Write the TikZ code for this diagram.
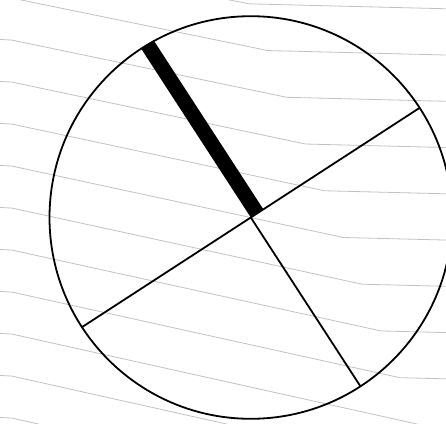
\documentclass[tikz,border=0pt]{standalone}
\usetikzlibrary{calc}
\definecolor{hatchgray}{gray}{0.76}
\tikzset{
  hatch/.style  = {draw=hatchgray, line width=0.8pt, line join=round},
  rim/.style    = {draw, line width=1.8pt},
  spoke/.style  = {draw, line width=1.8pt, line cap=round},
  marker/.style = {fill=black},
}
\begin{document}
\begin{tikzpicture}[x=1pt, y=1pt]

\useasboundingbox (0,0) rectangle (446,423);
\clip (0,0) rectangle (446,423);

% background hatching
\foreach \i in {-1,...,10} {
  \pgfmathsetmacro{\ya}{423 - (39.3 + 42*(\i-1))}
  \pgfmathsetmacro{\xb}{286.7 + 18.85*(\i-1)}
  \pgfmathsetmacro{\yb}{423 - (97.3 + 46.73*(\i-1))}
  \pgfmathsetmacro{\yc}{\yb - 0.025*(450 - \xb)}
  \draw[hatch] (-2,\ya) -- (12,\ya-0.8) -- (\xb,\yb) -- (450,\yc);
}

\def\rr{201.3}
\coordinate (hub) at (250.8,205.5);
\coordinate (ne) at ($(hub)+(33:\rr)$);
\coordinate (sw) at ($(hub)+(213:\rr)$);
\coordinate (se) at ($(hub)+(-57:\rr)$);
\coordinate (nw) at ($(hub)+(123:\rr)$);

\draw[rim] (hub) circle[radius=\rr];

\draw[spoke] (sw) -- (hub) -- (ne);
\draw[spoke] (hub) -- (se);

% the marked radius
\fill[marker] (hub) -- ($(hub)+(33:15)$) -- ($(nw)+(33:15)$) -- (nw) -- cycle;

\end{tikzpicture}
\end{document}
